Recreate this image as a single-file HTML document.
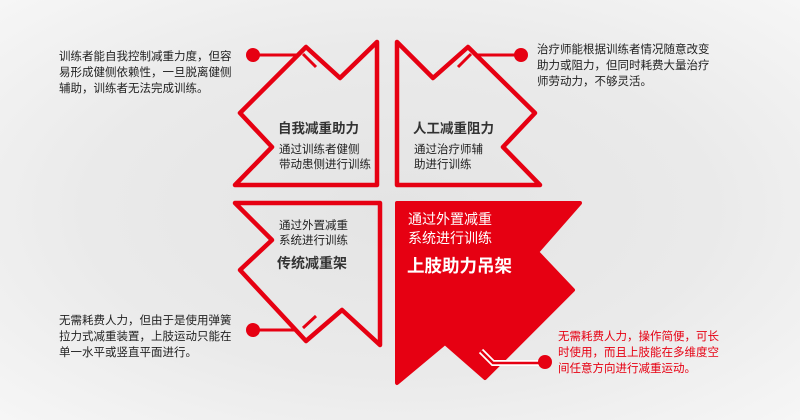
<!DOCTYPE html>
<html><head><meta charset="utf-8"><style>
html,body{margin:0;padding:0}
body{width:800px;height:420px;overflow:hidden;background:radial-gradient(ellipse at 50% 50%,#e4e4e4 0%,#eaeaea 55%,#f6f6f6 100%);font-family:"Liberation Sans","Noto Sans CJK SC",sans-serif;position:relative}
.t{position:absolute;font-size:11.5px;line-height:16px;color:#222;white-space:nowrap}
svg{position:absolute;left:0;top:0}
</style></head><body>
<svg width="800" height="420" viewBox="0 0 800 420">
<g fill="none" stroke="#e60012" stroke-width="4.5" stroke-linejoin="round" stroke-linecap="round">
<path d="M377,42 L377,185 L235,185 L272,147 L240,113 L306,47 L340,78 Z"/>
<path d="M397,42 L397,185 L540,185 L503,147 L535,113 L468,47 L433,78 Z"/>
<path d="M235,203 L380,203 L380,345 L342,310 L306,341 L240,270 L272,240 Z"/>
</g>
<path d="M397,203 L580,203 L537,252 L573,290 L485,378 L445,343 L397,383 Z" fill="#e60012" stroke="#e60012" stroke-width="4" stroke-linejoin="round"/>
<g stroke="#e60012" stroke-width="3" fill="none">
<path d="M253,55 L298,55 M303,54 L316,67"/>
<path d="M521,55 L476,55 M471,54 L458,67"/>
<path d="M253,330 L297,330 M303,328 L316,316"/>
</g>
<circle cx="253" cy="55" r="7" fill="#e60012"/>
<circle cx="521" cy="55" r="7" fill="#e60012"/>
<circle cx="253" cy="330" r="7" fill="#e60012"/>
<path d="M481,351 L493,363 L545,363" stroke="#fff" stroke-width="6" fill="none"/>
<path d="M481,351 L493,363 L545,363" stroke="#e60012" stroke-width="2.5" fill="none"/>
<circle cx="545" cy="362" r="7" fill="#e60012"/>
</svg>
<div class="t" style="left:59px;top:49px">训练者能自我控制减重力度，但容<br>易形成健侧依赖性，一旦脱离健侧<br>辅助，训练者无法完成训练。</div>
<div class="t" style="left:537px;top:42px">治疗师能根据训练者情况随意改变<br>助力或阻力，但同时耗费大量治疗<br>师劳动力，不够灵活。</div>
<div class="t" style="left:59px;top:313px">无需耗费人力，但由于是使用弹簧<br>拉力式减重装置，上肢运动只能在<br>单一水平或竖直平面进行。</div>
<div class="t" style="left:558px;top:329px;color:#e60012">无需耗费人力，操作简便，可长<br>时使用，而且上肢能在多维度空<br>间任意方向进行减重运动。</div>
<div class="t" style="left:278px;top:121px;font-size:13.5px;font-weight:bold;color:#333">自我减重助力</div>
<div class="t" style="left:279px;top:143px;font-size:11.5px;line-height:15px">通过训练者健侧<br>带动患侧进行训练</div>
<div class="t" style="left:413px;top:121px;font-size:13.5px;font-weight:bold;color:#333">人工减重阻力</div>
<div class="t" style="left:414px;top:143px;font-size:11.5px;line-height:15px">通过治疗师辅<br>助进行训练</div>
<div class="t" style="left:279px;top:219px;font-size:11.5px;line-height:15px">通过外置减重<br>系统进行训练</div>
<div class="t" style="left:277px;top:255px;font-size:14px;font-weight:bold;color:#333">传统减重架</div>
<div class="t" style="left:408px;top:210px;font-size:14px;line-height:19px;color:#fff">通过外置减重<br>系统进行训练</div>
<div class="t" style="left:407px;top:258px;font-size:17.5px;font-weight:bold;color:#fff">上肢助力吊架</div>
</body></html>
